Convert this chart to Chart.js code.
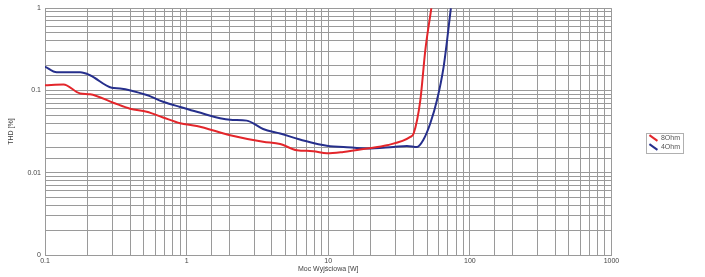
<!DOCTYPE html>
<html>
<head>
<meta charset="utf-8">
<script src="https://cdn.jsdelivr.net/npm/chart.js@4"></script>
<style>
html,body{margin:0;padding:0;background:#fff;}
#wrap{width:705px;height:277px;}
</style>
</head>
<body>
<div id="wrap"><canvas id="c" width="705" height="277"></canvas></div>
<script>
// ---- Data ----
const seriesLabels = ['8Ohm', '4Ohm'];
const power8 = [0.1, 0.135, 0.177, 0.208, 0.303, 0.399, 0.523, 0.682, 0.9, 1.18, 2.03, 3.47, 4.58, 6.01, 7.83, 9.8, 12.8, 18.8, 26, 38, 40.1, 44.7, 48.5, 53.5];
const thd8   = [0.116, 0.118, 0.092, 0.090, 0.071, 0.060, 0.055, 0.047, 0.040, 0.037, 0.0286, 0.0238, 0.0223, 0.0188, 0.0183, 0.0172, 0.0179, 0.0197, 0.0216, 0.0273, 0.030, 0.076, 0.31, 1.0];
const power4 = [0.1, 0.121, 0.177, 0.208, 0.296, 0.339, 0.523, 0.682, 0.9, 1.18, 2.03, 2.66, 3.47, 4.58, 6.01, 7.83, 10.3, 12.8, 18.8, 28.8, 36, 42.4, 46.9, 52.6, 58.6, 65.3, 73.5];
const thd4   = [0.195, 0.166, 0.166, 0.153, 0.108, 0.106, 0.088, 0.073, 0.063, 0.055, 0.044, 0.043, 0.034, 0.030, 0.026, 0.023, 0.021, 0.0206, 0.0197, 0.0206, 0.0212, 0.0206, 0.025, 0.040, 0.076, 0.194, 1.0];
const xTickLabels = {'0.1':'0.1', '1':'1', '10':'10', '100':'100', '1000':'1000'};
const yTickLabels = {'1':'1', '0.1':'0.1', '0.01':'0.01', '0.001':'0'};
const xTitle = 'Moc Wyjściowa [W]';
const yTitle = 'THD [%]';

const toPts = (xs, ys) => xs.map((x, i) => ({x: x, y: ys[i]}));

function decadeLabel(map, v) {
  const l = Math.log10(v);
  if (Math.abs(l - Math.round(l)) > 1e-6) return '';
  const key = String(Math.pow(10, Math.round(l)).toFixed(Math.max(0, -Math.round(l))) * 1);
  return map[key] !== undefined ? map[key] : '';
}

const FONT = 'Liberation Sans, Arial, sans-serif';
const GRID = '#9a9a9a';

const legendBorder = {
  id: 'legendBorder',
  afterDraw(chart) {
    const lg = chart.legend;
    if (!lg || !lg.legendHitBoxes || !lg.legendHitBoxes.length) return;
    let x0 = Infinity, y0 = Infinity, x1 = -Infinity, y1 = -Infinity;
    lg.legendHitBoxes.forEach(h => {
      x0 = Math.min(x0, h.left); y0 = Math.min(y0, h.top);
      x1 = Math.max(x1, h.left + h.width); y1 = Math.max(y1, h.top + h.height);
    });
    const ctx = chart.ctx;
    ctx.save();
    ctx.strokeStyle = '#b0b0b0';
    ctx.lineWidth = 1;
    ctx.strokeRect(Math.round(x0 - 3) + 0.5, Math.round(y0 - 2) + 0.5, Math.round(x1 - x0 + 6), Math.round(y1 - y0 + 4));
    ctx.restore();
  }
};

new Chart(document.getElementById('c'), {
  type: 'line',
  data: {
    datasets: [
      {
        label: seriesLabels[0],
        data: toPts(power8, thd8),
        borderColor: '#e3262b',
        backgroundColor: '#e3262b',
        borderWidth: 2,
        pointRadius: 0,
        pointRotation: 35,
        cubicInterpolationMode: 'monotone',
        fill: false
      },
      {
        label: seriesLabels[1],
        data: toPts(power4, thd4),
        borderColor: '#262f8c',
        backgroundColor: '#262f8c',
        borderWidth: 2,
        pointRadius: 0,
        pointRotation: 35,
        cubicInterpolationMode: 'monotone',
        fill: false
      }
    ]
  },
  options: {
    responsive: false,
    animation: false,
    devicePixelRatio: 1,
    layout: { padding: { left: 0, right: 15, top: 8, bottom: 0 } },
    plugins: {
      tooltip: { enabled: false },
      legend: {
        display: true,
        position: 'right',
        labels: {
          usePointStyle: true,
          pointStyle: 'line',
          pointStyleWidth: 8,
          padding: 2,
          color: '#555',
          font: { family: FONT, size: 7 }
        }
      }
    },
    scales: {
      x: {
        type: 'logarithmic',
        min: 0.1,
        max: 1000,
        grid: { color: GRID, lineWidth: 1, drawTicks: false },
        border: { color: GRID },
        ticks: {
          autoSkip: false,
          maxRotation: 0,
          minRotation: 0,
          padding: 2,
          color: '#444',
          font: { family: FONT, size: 7 },
          callback: (v) => decadeLabel(xTickLabels, v)
        },
        title: {
          display: true,
          text: xTitle,
          color: '#444',
          font: { family: FONT, size: 7 },
          padding: { top: 0, bottom: 4 }
        },
        afterFit: (s) => { s.height = 22; }
      },
      y: {
        type: 'logarithmic',
        min: 0.001,
        max: 1,
        grid: { color: GRID, lineWidth: 1, drawTicks: false },
        border: { color: GRID },
        ticks: {
          autoSkip: false,
          padding: 4,
          color: '#444',
          font: { family: FONT, size: 7 },
          callback: (v) => decadeLabel(yTickLabels, v)
        },
        title: {
          display: true,
          text: yTitle,
          color: '#444',
          font: { family: FONT, size: 7 },
          padding: { top: 7, bottom: 0 }
        },
        afterFit: (s) => { s.width = 45; }
      },
      spacer: {
        type: 'linear',
        position: 'right',
        display: true,
        grid: { display: false, drawTicks: false },
        border: { display: false },
        ticks: { display: false },
        afterFit: (s) => { s.width = 36; }
      }
    }
  },
  plugins: [legendBorder]
});
</script>
</body>
</html>
